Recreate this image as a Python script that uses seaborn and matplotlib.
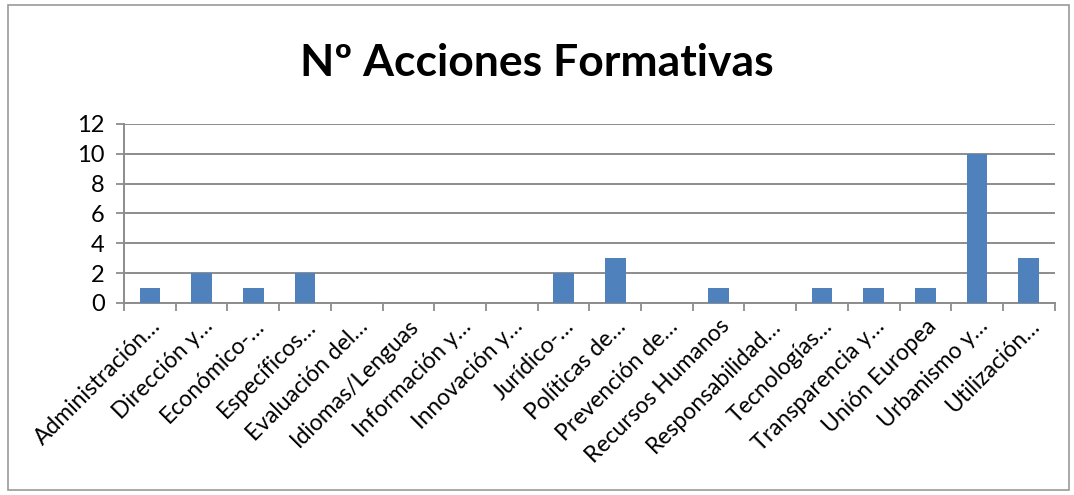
import numpy as np
import pandas as pd
import matplotlib
matplotlib.use("Agg")
import matplotlib.pyplot as plt
import seaborn as sns
from matplotlib.patches import Rectangle

categorias = [
    "Administración…", "Dirección y…", "Económico-…", "Específicos…",
    "Evaluación del…", "Idiomas/Lenguas", "Información y…", "Innovación y…",
    "Jurídico-…", "Políticas de…", "Prevención de…", "Recursos Humanos",
    "Responsabilidad…", "Tecnologías…", "Transparencia y…", "Unión Europea",
    "Urbanismo y…", "Utilización…",
]
acciones = [1, 2, 1, 2, 0, 0, 0, 0, 2, 3, 0, 1, 0, 1, 1, 1, 10, 3]
yticks = [0, 2, 4, 6, 8, 10, 12]

sns.set_theme(style="white")
plt.rcParams["font.family"] = ["Lato", "DejaVu Sans"]
plt.rcParams["text.color"] = "black"
plt.rcParams["xtick.labelcolor"] = "black"
plt.rcParams["ytick.labelcolor"] = "black"

df = pd.DataFrame({"categoria": categorias, "acciones": acciones})

fig = plt.figure(figsize=(10.74, 4.95), dpi=100)
ax = fig.add_axes([0.1155, 0.388, 0.982 - 0.1155, 0.7495 - 0.388])

sns.barplot(data=df, x="categoria", y="acciones", color="#4F81BD",
            saturation=1, width=0.4, linewidth=0, ax=ax, zorder=3)

ax.set_xlim(-0.5, len(categorias) - 0.5)
ax.set_ylim(0, 12)
ax.set_yticks(yticks)
ax.set_yticklabels([str(v) for v in yticks], fontsize=17)
ax.yaxis.grid(True, color="#8c8c8c", linewidth=1.4, zorder=0)
ax.set_axisbelow(True)

ax.set_xticks(range(len(categorias)))
ax.set_xticklabels(categorias, rotation=45, ha="right", rotation_mode="anchor",
                   fontsize=16.5)
ax.set_xticks(np.arange(-0.5, len(categorias)), minor=True)
ax.tick_params(axis="x", which="major", length=0, pad=9, labelcolor="black")
ax.tick_params(axis="x", which="minor", length=6, width=1.3, color="#8c8c8c",
               bottom=True)
ax.tick_params(axis="y", which="major", length=6, width=1.3, color="#8c8c8c",
               left=True, pad=8, labelcolor="black")

for s in ["top", "right"]:
    ax.spines[s].set_visible(False)
for s in ["left", "bottom"]:
    ax.spines[s].set_color("#8c8c8c")
    ax.spines[s].set_linewidth(1.4)

ax.set_xlabel("")
ax.set_ylabel("")

fig.text(0.5, 0.872, "Nº Acciones Formativas", ha="center", va="center",
         fontsize=32, fontweight="bold", color="black")

fig.patches.append(Rectangle((0.007, 0.01), 0.988, 0.98, transform=fig.transFigure,
                             fill=False, edgecolor="#9a9a9a", linewidth=1.2))

fig.savefig("out.png", dpi=100)
plt.close()
